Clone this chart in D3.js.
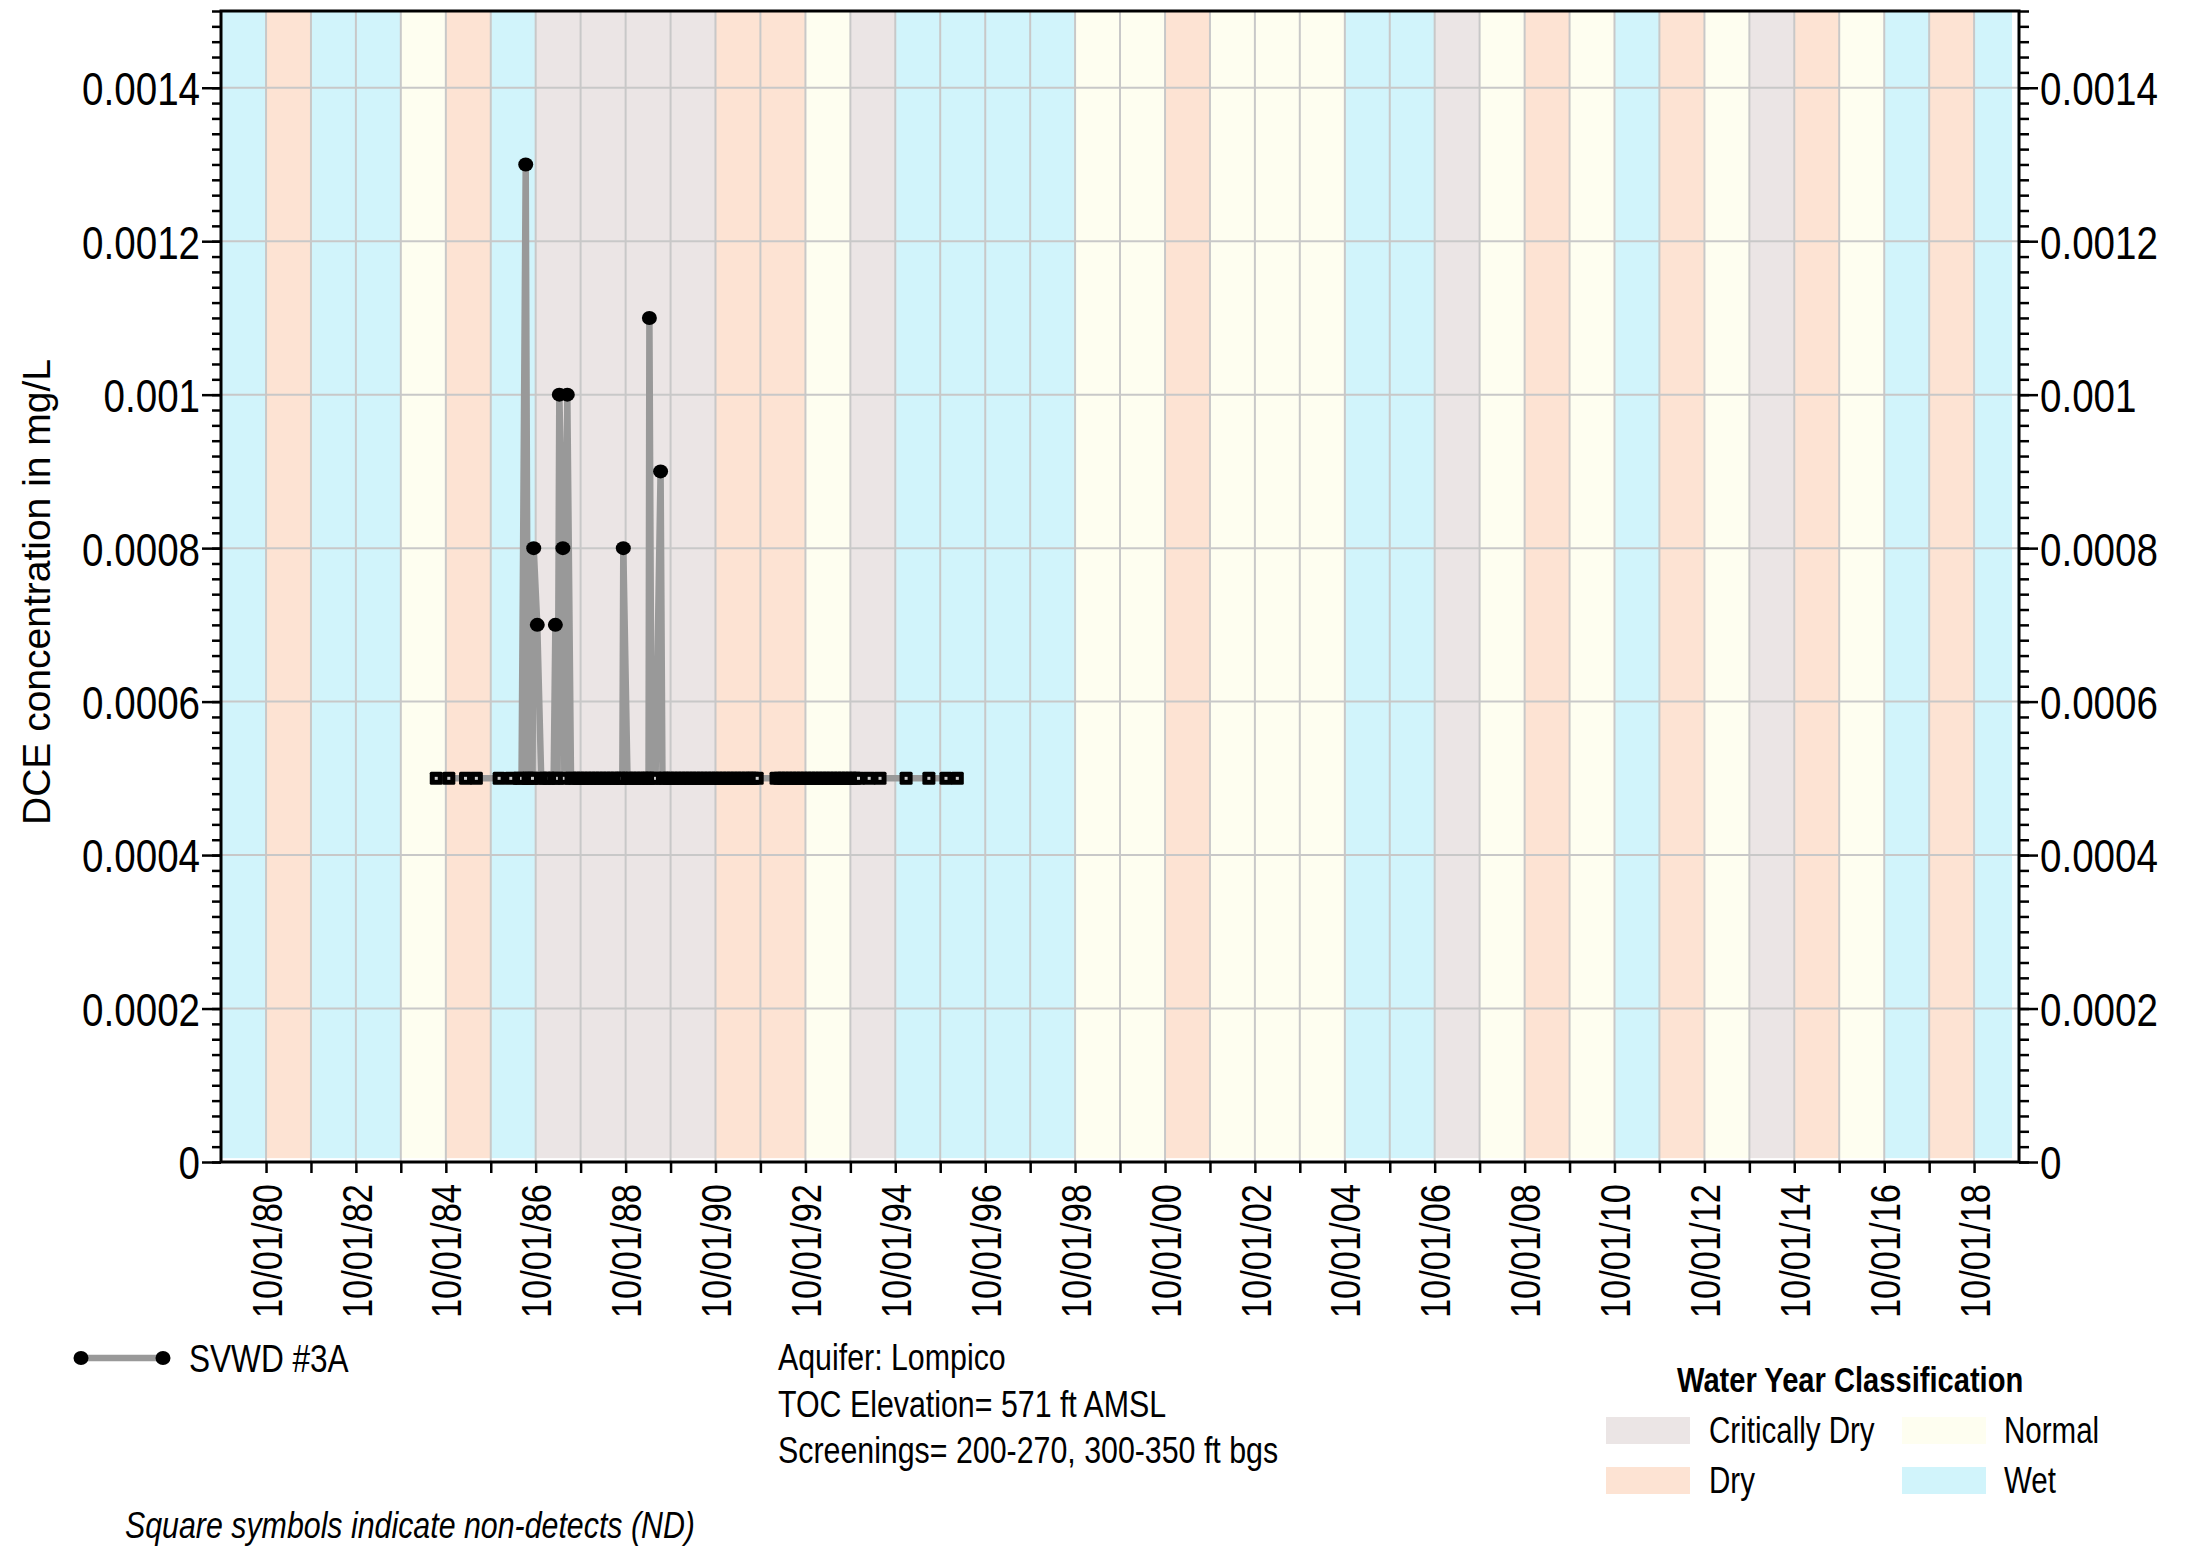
<!DOCTYPE html>
<html><head><meta charset="utf-8">
<script src="https://cdn.jsdelivr.net/npm/d3@7"></script>
<style>
html,body{margin:0;padding:0;background:#fff;}
svg{display:block;}
</style></head><body>
<svg id="chart" width="2192" height="1550"></svg>
<script>
// ---------------- DATA ----------------
const waterYears = [1980,1981,1982,1983,1984,1985,1986,1987,1988,1989,1990,1991,1992,1993,1994,1995,1996,1997,1998,1999,
                    2000,2001,2002,2003,2004,2005,2006,2007,2008,2009,2010,2011,2012,2013,2014,2015,2016,2017,2018,2019];
const waterYearClass = ["W","D","W","W","N","D","W","C","C","C","C","D","D","N","C","W","W","W","W","N",
                        "N","D","N","N","N","W","W","C","N","D","N","W","D","N","C","D","N","W","D","W"];
const bandEndDate = "2019-08-05";

const classNames = ["Critically Dry","Dry","Normal","Wet"];
const classKeys  = ["C","D","N","W"];

const seriesName = "SVWD #3A";
const detectDates  = ["1986-07-12","1986-09-15","1986-10-14","1987-03-10","1987-04-11","1987-05-10","1987-06-15",
                      "1988-09-12","1989-04-12","1989-07-12"];
const detectValues = [0.0013,0.0008,0.0007,0.0007,0.001,0.0008,0.001,0.0008,0.0011,0.0009];

const ndValue = 0.0005;
const ndDates = [
  "1984-07-15","1984-10-25","1985-03-10","1985-06-06",
  "1985-12-08","1986-03-13","1986-05-20","1986-06-08","1986-07-31","1986-08-20","1986-09-05",
  "1986-11-15","1986-12-15","1987-01-15","1987-02-24","1987-03-28","1987-05-22","1987-07-15",
  "1987-08-15","1987-09-15","1987-10-15","1987-11-15","1987-12-15","1988-01-15","1988-02-15",
  "1988-03-15","1988-04-15","1988-05-15","1988-06-15","1988-07-15","1988-08-15","1988-09-04",
  "1988-10-16","1988-11-15","1988-12-15","1989-01-15","1989-02-15","1989-03-15","1989-04-05",
  "1989-04-30","1989-06-01","1989-07-27","1989-08-15","1989-09-15","1989-10-15","1989-11-15",
  "1989-12-15","1990-01-15","1990-02-15","1990-03-15","1990-04-15","1990-05-15","1990-06-15",
  "1990-07-15","1990-08-15","1990-09-15","1990-10-15","1990-11-15","1990-12-15","1991-01-15",
  "1991-02-15","1991-03-15","1991-04-15","1991-05-15","1991-06-15","1991-07-15","1991-08-05",
  "1991-09-05",
  "1992-02-05","1992-03-05","1992-04-05","1992-05-05","1992-06-05","1992-07-05","1992-08-05",
  "1992-09-05","1992-10-05","1992-11-05","1992-12-05","1993-01-05","1993-02-05","1993-03-05",
  "1993-04-05","1993-05-05","1993-06-05","1993-07-05","1993-08-05","1993-09-05","1993-10-05",
  "1993-11-05","1993-12-06","1994-03-03","1994-05-30",
  "1994-12-28","1995-07-01","1995-11-17","1996-02-17"
];

const yTickValues = [0,0.0002,0.0004,0.0006,0.0008,0.001,0.0012,0.0014];
const yTickLabels = ["0","0.0002","0.0004","0.0006","0.0008","0.001","0.0012","0.0014"];
const xTickDates  = ["1980-10-01","1981-10-01","1982-10-01","1983-10-01","1984-10-01","1985-10-01","1986-10-01",
  "1987-10-01","1988-10-01","1989-10-01","1990-10-01","1991-10-01","1992-10-01","1993-10-01","1994-10-01",
  "1995-10-01","1996-10-01","1997-10-01","1998-10-01","1999-10-01","2000-10-01","2001-10-01","2002-10-01",
  "2003-10-01","2004-10-01","2005-10-01","2006-10-01","2007-10-01","2008-10-01","2009-10-01","2010-10-01",
  "2011-10-01","2012-10-01","2013-10-01","2014-10-01","2015-10-01","2016-10-01","2017-10-01","2018-10-01"];
const xTickLabels = ["10/01/80","","10/01/82","","10/01/84","","10/01/86","","10/01/88","","10/01/90","",
  "10/01/92","","10/01/94","","10/01/96","","10/01/98","","10/01/00","","10/01/02","","10/01/04","",
  "10/01/06","","10/01/08","","10/01/10","","10/01/12","","10/01/14","","10/01/16","","10/01/18"];

const infoLines = ["Aquifer: Lompico","TOC Elevation= 571 ft AMSL","Screenings= 200-270, 300-350 ft bgs"];
const footNote = "Square symbols indicate non-detects (ND)";
const legendTitle = "Water Year Classification";
const yTitle = "DCE concentration in mg/L";

// ---------------- STYLE ----------------
const FONT = "'Liberation Sans',Arial,sans-serif";
const NARROW_F = 0.82;
const classColor = {C:"#ebe5e5", D:"#fde3d3", N:"#fefef0", W:"#d1f4fb"};
const gridColor = "#c8c8c8";
const lineColor = "#999999";

function narrow(sel) {
  sel.each(function () {
    const len = this.getComputedTextLength();
    if (len > 0) {
      this.setAttribute("textLength", (len * NARROW_F).toFixed(2));
      this.setAttribute("lengthAdjust", "spacingAndGlyphs");
    }
  });
}

// ---------------- CHART ----------------
const parse = d3.timeParse("%Y-%m-%d");
const svg = d3.select("#chart");
const L = 221, R = 2019, T = 11, B = 1162;

const x = d3.scaleTime().domain([parse("1979-10-01"), parse("2019-10-01")]).range([L, R]);
const y = d3.scaleLinear().domain([0, 0.0015]).range([B, T]);

// bands
const bands = waterYears.map((wy, i) => ({
  start: parse((wy - 1) + "-10-01"),
  end: i === waterYears.length - 1 ? parse(bandEndDate) : parse(wy + "-10-01"),
  cls: waterYearClass[i]
}));
svg.append("g").selectAll("rect").data(bands).join("rect")
  .attr("x", d => x(d.start))
  .attr("width", d => x(d.end) - x(d.start))
  .attr("y", y(0.0015))
  .attr("height", y(0.000005) - y(0.0015))
  .attr("fill", d => classColor[d.cls]);

// grid
const grid = svg.append("g");
grid.selectAll("line.v").data(xTickDates).join("line")
  .attr("x1", d => x(parse(d))).attr("x2", d => x(parse(d)))
  .attr("y1", y(0.0015)).attr("y2", y(0))
  .attr("stroke", gridColor).attr("stroke-width", 2);
grid.selectAll("line.h").data(yTickValues.filter(v => v > 0)).join("line")
  .attr("x1", L).attr("x2", R)
  .attr("y1", d => y(d)).attr("y2", d => y(d))
  .attr("stroke", gridColor).attr("stroke-width", 2);

// y axes
const minorVals = d3.range(0, 76).map(i => i * 0.00002);
function styleAxis(g) {
  g.select(".domain").remove();
  g.selectAll("line").attr("stroke", "#000").attr("stroke-width", 2.5);
}
const gLm = svg.append("g").attr("transform", `translate(${L},0)`)
  .call(d3.axisLeft(y).tickValues(minorVals).tickSize(9).tickSizeOuter(0).tickFormat(""));
styleAxis(gLm);
const gL = svg.append("g").attr("transform", `translate(${L},0)`)
  .call(d3.axisLeft(y).tickValues(yTickValues).tickSize(19).tickSizeOuter(0).tickPadding(2)
        .tickFormat((d, i) => yTickLabels[i]));
styleAxis(gL);
gL.selectAll("text").attr("font-family", FONT).attr("font-size", 47).attr("fill", "#000").attr("dy", "0.36em");

const gRm = svg.append("g").attr("transform", `translate(${R},0)`)
  .call(d3.axisRight(y).tickValues(minorVals).tickSize(10).tickSizeOuter(0).tickFormat(""));
styleAxis(gRm);
const gR = svg.append("g").attr("transform", `translate(${R},0)`)
  .call(d3.axisRight(y).tickValues(yTickValues).tickSize(19).tickSizeOuter(0).tickPadding(2)
        .tickFormat((d, i) => yTickLabels[i]));
styleAxis(gR);
gR.selectAll("text").attr("font-family", FONT).attr("font-size", 47).attr("fill", "#000").attr("dy", "0.36em");

// x axis
const gX = svg.append("g").attr("transform", `translate(0,${B})`)
  .call(d3.axisBottom(x).tickValues(xTickDates.map(parse)).tickSize(11).tickSizeOuter(0)
        .tickFormat((d, i) => xTickLabels[i]));
styleAxis(gX);
gX.selectAll("text")
  .attr("font-family", FONT).attr("font-size", 42).attr("fill", "#000")
  .attr("transform", "rotate(-90)")
  .attr("x", -22).attr("y", 0).attr("dy", "0.36em")
  .style("text-anchor", "end");

// frame
svg.append("rect").attr("x", L).attr("y", T).attr("width", R - L).attr("height", B - T)
  .attr("fill", "none").attr("stroke", "#000").attr("stroke-width", 3);

// series
const samples = detectDates.map((d, i) => ({date: parse(d), value: detectValues[i], nd: false}))
  .concat(ndDates.map(d => ({date: parse(d), value: ndValue, nd: true})))
  .sort((a, b) => a.date - b.date);

const line = d3.line().x(d => x(d.date)).y(d => y(d.value));
svg.append("path").datum(samples).attr("d", line)
  .attr("fill", "none").attr("stroke", lineColor).attr("stroke-width", 6.5).attr("stroke-linejoin", "miter")
  .attr("stroke-miterlimit", 4);

const mk = svg.append("g");
samples.forEach(s => {
  const cx = x(s.date), cy = y(s.value);
  if (s.nd) {
    mk.append("rect").attr("x", cx - 6.5).attr("y", cy - 6.5).attr("width", 13).attr("height", 13)
      .attr("rx", 1.5).attr("fill", "#000");
    mk.append("rect").attr("x", cx - 1.5).attr("y", cy - 1.5).attr("width", 3).attr("height", 3)
      .attr("fill", "#cfcfcf");
  } else {
    mk.append("ellipse").attr("cx", cx).attr("cy", cy).attr("rx", 7.5).attr("ry", 7).attr("fill", "#000");
  }
});

// y title
svg.append("text").attr("transform", `translate(50,592) rotate(-90)`)
  .attr("text-anchor", "middle").attr("font-family", FONT).attr("font-size", 39).attr("fill", "#000")
  .text(yTitle);

// series legend
const lg = svg.append("g");
lg.append("line").attr("x1", 81).attr("x2", 163).attr("y1", 1358).attr("y2", 1358)
  .attr("stroke", lineColor).attr("stroke-width", 6.5);
lg.selectAll("ellipse").data([81, 163]).join("ellipse")
  .attr("cx", d => d).attr("cy", 1358).attr("rx", 7.5).attr("ry", 7).attr("fill", "#000");
const legText = lg.append("text").attr("x", 189).attr("y", 1372).attr("font-family", FONT).attr("font-size", 38.5)
  .attr("fill", "#000").text(seriesName);

// info text
const info = svg.append("g").selectAll("text").data(infoLines).join("text")
  .attr("x", 778).attr("y", (d, i) => 1370 + i * 46.5)
  .attr("font-family", FONT).attr("font-size", 37).attr("fill", "#000").text(d => d);

// foot note
const foot = svg.append("text").attr("x", 125).attr("y", 1538).attr("font-family", FONT).attr("font-style", "italic")
  .attr("font-size", 37).attr("fill", "#000").text(footNote);

// water year legend
const wlt = svg.append("text").attr("x", 1677).attr("y", 1392).attr("font-family", FONT).attr("font-weight", "bold")
  .attr("font-size", 35.5).attr("fill", "#000").text(legendTitle);
const wl = svg.append("g").selectAll("g").data(classKeys).join("g")
  .attr("transform", (d, i) => `translate(${i < 2 ? 1606 : 1902},${i % 2 === 0 ? 1417 : 1467})`);
wl.append("rect").attr("width", 84).attr("height", 27).attr("fill", d => classColor[d]);
const wlLabels = wl.append("text").attr("x", (d, i) => i < 2 ? 103 : 102).attr("y", 26)
  .attr("font-family", FONT).attr("font-size", 36).attr("fill", "#000")
  .text((d, i) => classNames[i]);

// condensed look (Arial Narrow-like)
narrow(gL.selectAll("text"));
narrow(gR.selectAll("text"));
narrow(gX.selectAll("text"));
narrow(legText);
narrow(info);
narrow(foot);
narrow(wlt);
narrow(wlLabels);
</script>
</body></html>
